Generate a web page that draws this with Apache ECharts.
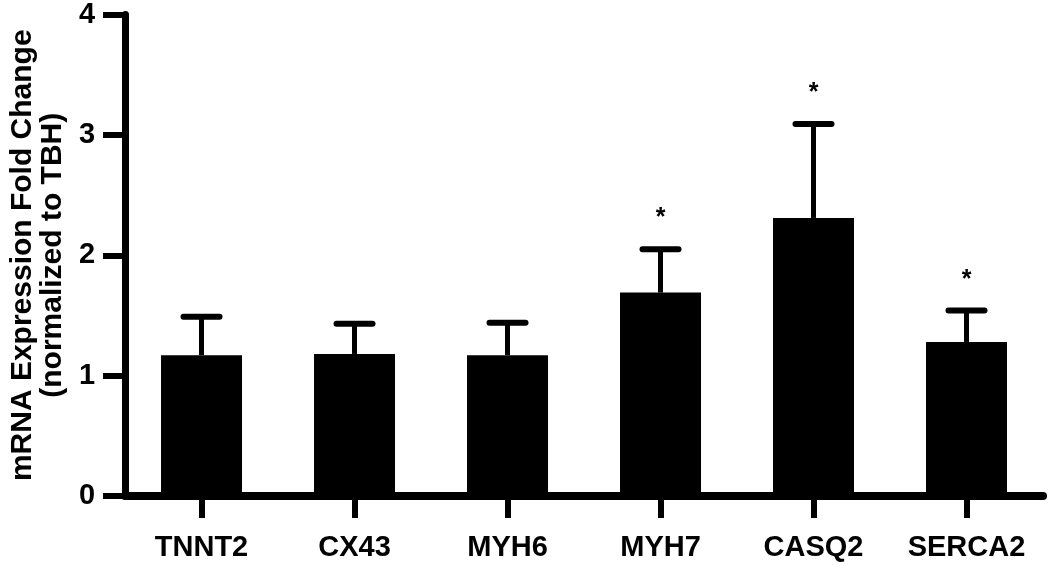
<!DOCTYPE html>
<html>
<head>
<meta charset="utf-8">
<script src="https://cdn.jsdelivr.net/npm/echarts@6/dist/echarts.min.js"></script>
<style>
html,body{margin:0;padding:0;background:#fff;}
#chart{width:1050px;height:566px;}
</style>
</head>
<body>
<div id="chart"></div>
<script>
const categories = ['TNNT2', 'CX43', 'MYH6', 'MYH7', 'CASQ2', 'SERCA2'];
const meanValues = [1.17, 1.18, 1.17, 1.69, 2.31, 1.28];
const errorTops = [1.49, 1.43, 1.44, 2.05, 3.09, 1.54];
const marks = ['', '', '', '*', '*', '*'];
const yTicks = [0, 1, 2, 3, 4];

const FONT = '"Liberation Sans", Arial, Helvetica, sans-serif';
const chart = echarts.init(document.getElementById('chart'), null, {renderer: 'canvas'});

chart.setOption({
  animation: false,
  backgroundColor: '#fff',
  grid: {left: 125, right: 7, top: 12, bottom: 70, containLabel: false},
  xAxis: {
    type: 'category',
    data: categories,
    axisLine: {lineStyle: {color: '#000', width: 8}},
    axisTick: {show: true, alignWithLabel: true, length: 22, lineStyle: {color: '#000', width: 6}},
    axisLabel: {color: '#000', fontSize: 29, fontWeight: 'bold', fontFamily: FONT, margin: 37}
  },
  yAxis: {
    type: 'value',
    min: yTicks[0],
    max: yTicks[yTicks.length - 1],
    interval: 1,
    name: 'mRNA Expression Fold Change\n(normalized to TBH)',
    nameLocation: 'middle',
    nameGap: 57,
    nameTextStyle: {color: '#000', fontSize: 30, fontWeight: 'bold', fontFamily: FONT, lineHeight: 30},
    axisLine: {show: true, lineStyle: {color: '#000', width: 7}},
    axisTick: {show: true, length: 22, lineStyle: {color: '#000', width: 6}},
    axisLabel: {color: '#000', fontSize: 29, fontWeight: 'bold', fontFamily: FONT, margin: 30},
    splitLine: {show: false}
  },
  series: [
    {
      type: 'bar',
      data: meanValues,
      barWidth: 81,
      itemStyle: {color: '#000'},
      z: 2
    },
    {
      type: 'custom',
      z: 3,
      data: categories.map((c, i) => [i, meanValues[i], errorTops[i]]),
      encode: {x: 0, y: [1, 2]},
      renderItem: function (params, api) {
        const i = api.value(0);
        const base = api.coord([i, api.value(1)]);
        const top = api.coord([i, api.value(2)]);
        const half = 18;
        const children = [
          {type: 'line', shape: {x1: base[0], y1: base[1], x2: top[0], y2: top[1]},
           style: {stroke: '#000', lineWidth: 5}},
          {type: 'line', shape: {x1: top[0] - half, y1: top[1], x2: top[0] + half, y2: top[1]},
           style: {stroke: '#000', lineWidth: 6, lineCap: 'round'}}
        ];
        if (marks[i]) {
          children.push({type: 'text', x: top[0], y: top[1] - 31,
            style: {text: marks[i], fill: '#000', font: 'bold 25px ' + FONT, textAlign: 'center', textVerticalAlign: 'middle'}});
        }
        return {type: 'group', children: children};
      }
    }
  ]
});
</script>
</body>
</html>
